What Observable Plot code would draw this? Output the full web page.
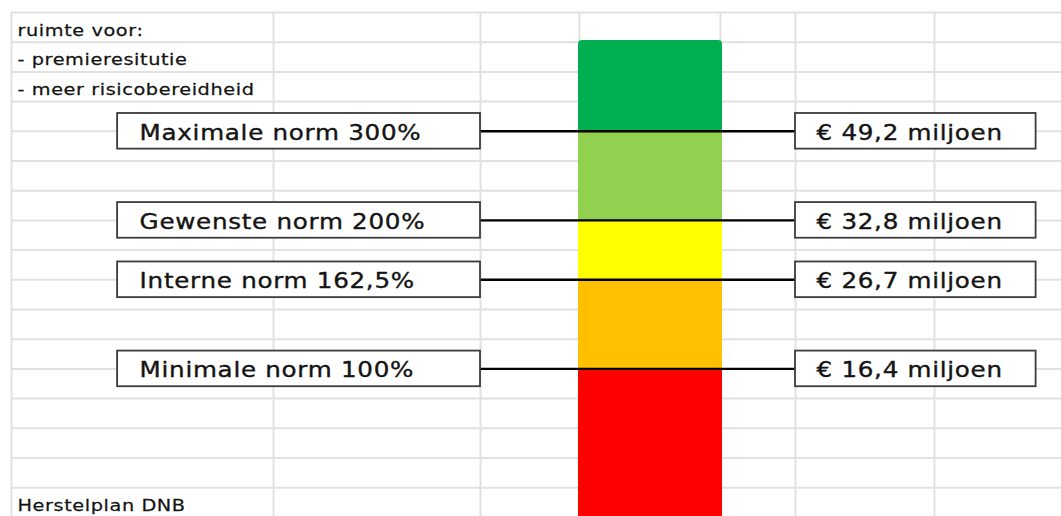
<!DOCTYPE html>
<html>
<head>
<meta charset="utf-8">
<script src="https://cdn.jsdelivr.net/npm/d3@7"></script>
<script src="https://cdn.jsdelivr.net/npm/@observablehq/plot@0.6"></script>
<style>
  html, body { margin: 0; padding: 0; background: #fff; }
  #chart svg { display: block; }
  #chart g[font-size="20.5"] text { letter-spacing: 0.6px; }
  #chart g[font-size="16.5"] text { letter-spacing: 0.5px; }
</style>
</head>
<body>
<div id="chart"></div>
<script>
// ---- data ----
const normLabels = ["Maximale norm 300%", "Gewenste norm 200%", "Interne norm 162,5%", "Minimale norm 100%"];
const normPercent = [300, 200, 162.5, 100];
const amountsMillion = [49.2, 32.8, 26.7, 16.4];
const normRows = [4, 7, 9, 12];            // spreadsheet row boundary of each norm
const zoneColors = ["#00B050", "#92D050", "#FFFF00", "#FFC000", "#FF0000"];
const notesTop = ["ruimte voor:", "- premieresitutie", "- meer risicobereidheid"];
const noteBottom = "Herstelplan DNB";

// ---- layout (spreadsheet geometry) ----
const colEdges = [11, 273, 480, 579, 720, 795, 934, 1061]; // column boundaries A..H
const rowTop = 12, rowH = 29.7, rowCount = 17;
const barCol = 3, barTopRow = 0.94, barBottomRow = 17.3;
const leftBox = {x1: 0.405, x2: 2}, rightBox = {x1: 5, x2: 6.8};
const boxHalf = 0.6;

const amountLabels = amountsMillion.map(v => "€ " + v.toFixed(1).replace(".", ",") + " miljoen");
const norms = normLabels.map((label, i) => ({label, pct: normPercent[i], amount: amountLabels[i], row: normRows[i]}));
const zones = zoneColors.map((color, i) => ({
  color,
  y1: i === 0 ? barTopRow : normRows[i - 1],
  y2: i < normRows.length ? normRows[i] : barBottomRow
}));
const notes = [...notesTop.map((t, i) => ({t, row: i})), {t: noteBottom, row: 16}];

const chart = Plot.plot({
  width: 1061,
  height: 516,
  margin: 0,
  x: {type: "linear", domain: d3.range(colEdges.length), range: colEdges, axis: null},
  y: {type: "linear", domain: [0, rowCount], range: [rowTop, rowTop + rowCount * rowH], axis: null},
  color: {type: "identity"},
  style: {fontFamily: "DejaVu Sans", background: "white"},
  marks: [
    // spreadsheet grid
    Plot.ruleY(d3.range(rowCount), {y: d => d, x1: 0, x2: colEdges.length - 1, stroke: "#e1e1e1", strokeWidth: 2}),
    Plot.ruleX(d3.range(colEdges.length - 1), {x: d => d, y1: 0, y2: barBottomRow, stroke: "#e1e1e1", strokeWidth: 2}),
    // colour bar
    Plot.rect([zones[0]], {x1: barCol, x2: barCol + 1, y1: "y1", y2: barBottomRow, fill: "color", rx: 4, insetLeft: -1, insetRight: -2}),
    Plot.rect(zones.slice(1), {x1: barCol, x2: barCol + 1, y1: "y1", y2: "y2", fill: "color", insetLeft: -1, insetRight: -2}),
    // connectors
    Plot.ruleY(norms, {y: "row", x1: leftBox.x2, x2: rightBox.x1, stroke: "#000", strokeWidth: 2.4}),
    // boxes
    Plot.rect(norms, {x1: leftBox.x1, x2: leftBox.x2, y1: d => d.row - boxHalf, y2: d => d.row + boxHalf, fill: "white", stroke: "#3c3c3c", strokeWidth: 1.8}),
    Plot.rect(norms, {x1: rightBox.x1, x2: rightBox.x2, y1: d => d.row - boxHalf, y2: d => d.row + boxHalf, fill: "white", stroke: "#3c3c3c", strokeWidth: 1.8}),
    // labels
    Plot.text(norms, {x: leftBox.x1, y: "row", text: "label", textAnchor: "start", lineAnchor: "middle", dx: 22, dy: 2, fontSize: 20.5, fill: "#141414", stroke: "#141414", strokeWidth: 0.35}),
    Plot.text(norms, {x: rightBox.x1, y: "row", text: "amount", textAnchor: "start", lineAnchor: "middle", dx: 21, dy: 2, fontSize: 20.5, fill: "#141414", stroke: "#141414", strokeWidth: 0.35}),
    Plot.text(notes, {x: 0, y: d => d.row + 0.5, text: "t", textAnchor: "start", lineAnchor: "middle", dx: 6, dy: 3, fontSize: 16.5, fill: "#141414", stroke: "#141414", strokeWidth: 0.25})
  ]
});

// the original spreadsheet rendering is horizontally stretched: widen the glyphs around each anchor
function stretch(el, s) {
  const t = el.getAttribute("transform");
  if (t) {
    el.setAttribute("transform", t + ` scale(${s},1)`);
  } else {
    const x = +el.getAttribute("x") || 0, y = +el.getAttribute("y") || 0;
    el.removeAttribute("x"); el.removeAttribute("y");
    el.setAttribute("transform", `translate(${x},${y}) scale(${s},1)`);
  }
}
d3.select(chart).selectAll('g[font-size="20.5"] text').each(function () { stretch(this, 1.2); });
d3.select(chart).selectAll('g[font-size="16.5"] text').each(function () { stretch(this, 1.17); });

document.getElementById("chart").append(chart);
</script>
</body>
</html>
